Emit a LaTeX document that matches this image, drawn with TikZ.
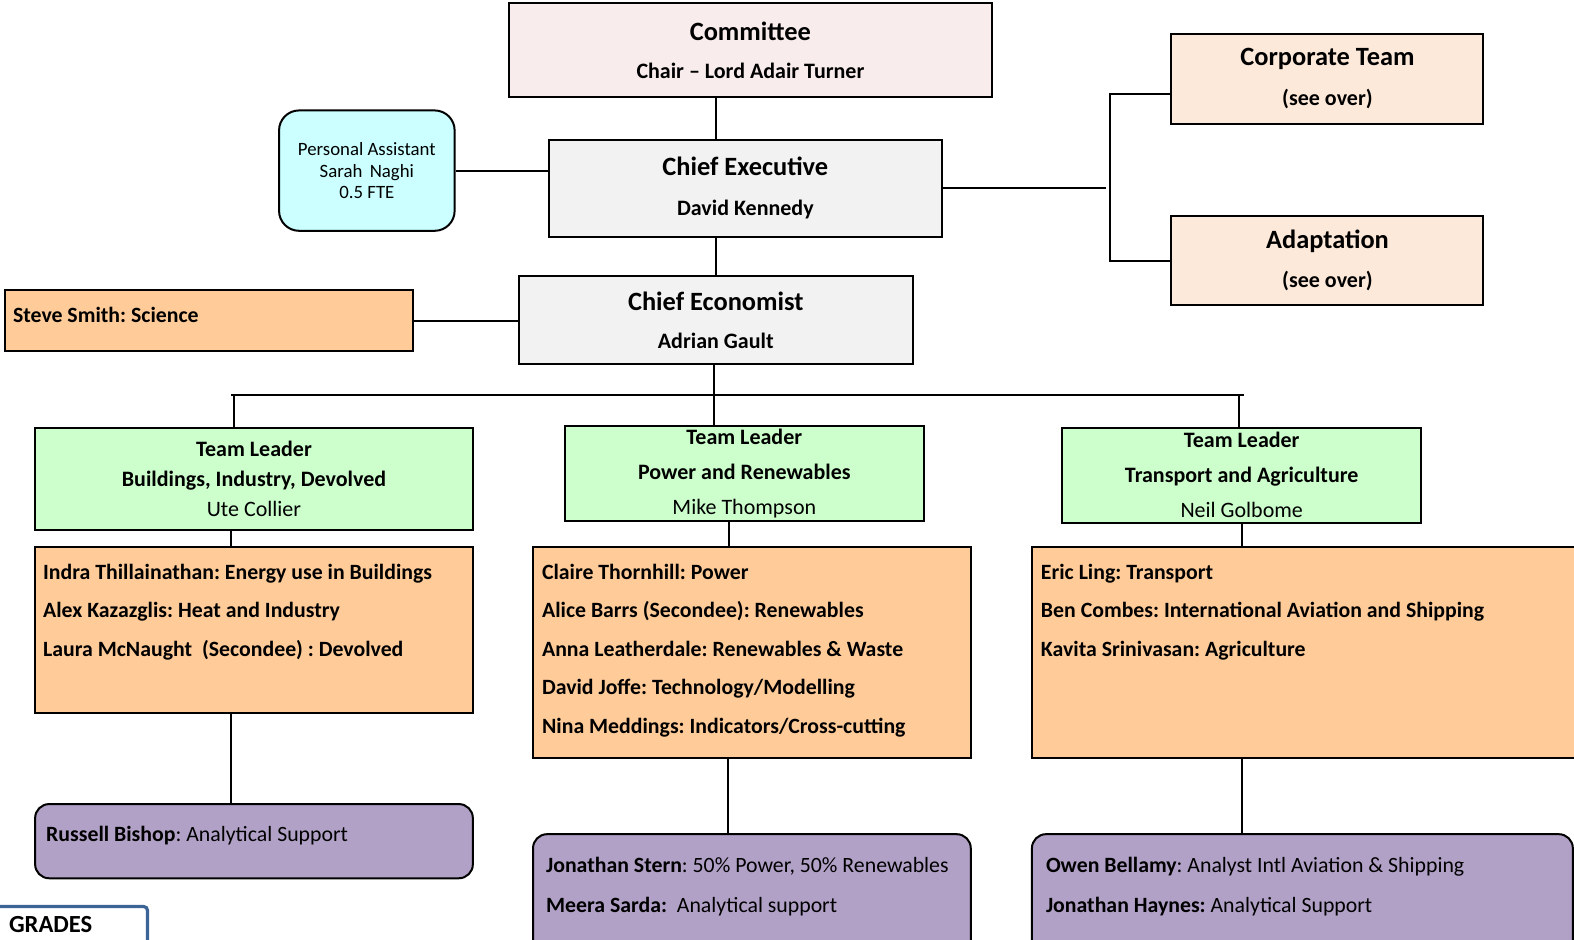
\documentclass[tikz,border=0pt]{standalone}
\usepackage{fontspec}
\setmainfont{Carlito}
\usetikzlibrary{positioning,calc}
\frenchspacing

\definecolor{cmtfill}{HTML}{F8ECEC}
\definecolor{execfill}{HTML}{F2F2F2}
\definecolor{pafill}{HTML}{CCFFFF}
\definecolor{sidefill}{HTML}{FDE9D9}
\definecolor{teamfill}{HTML}{FFCC99}
\definecolor{leadfill}{HTML}{CCFFCC}
\definecolor{supfill}{HTML}{B2A1C7}
\definecolor{gradeblue}{HTML}{3C6496}

\tikzset{
  box/.style={draw, line width=1pt, inner sep=0pt, anchor=north west, align=center},
  head/.style={font=\fontsize{11}{19}\selectfont\bfseries},
  lead/.style={box, fill=leadfill, font=\fontsize{11}{17.5}\selectfont},
  team/.style={box, fill=teamfill},
  support/.style={box, fill=supfill, rounded corners=7pt},
  listtext/.style={anchor=north west, inner sep=0pt, align=left, font=\fontsize{10.9}{19.2}\selectfont\bfseries},
  suptext/.style={anchor=north west, inner sep=0pt, align=left, font=\fontsize{10.9}{20}\selectfont}
}
\newcommand{\ttl}[1]{{\fontsize{13.2}{19}\selectfont #1}}

\begin{document}
\begin{tikzpicture}[x=0.502pt, y=-0.502pt, line width=1pt]
    \useasboundingbox (0,0) rectangle (1568,936);
    \clip (0,0) rectangle (1568,936);

    \node (Comm) [box, head, fill=cmtfill, minimum width=241.5pt, minimum height=47pt] at (506,2)
        {\ttl{Committee}\\Chair -- Lord Adair Turner};
    \node (CE) [box, head, fill=execfill, minimum width=196.3pt, minimum height=48.7pt,
        font=\fontsize{11}{20}\selectfont\bfseries] at (546,138)
        {\ttl{Chief Executive}\\David Kennedy};
    \node (PA) [box, fill=pafill, rounded corners=10pt, minimum width=87.8pt, minimum height=60.2pt,
        font=\fontsize{9.4}{10.8}\selectfont] at (277,109)
        {Personal Assistant\\Sarah\, Naghi\\0.5 FTE};
    \node (Corp) [box, head, fill=sidefill, minimum width=156pt, minimum height=44.7pt,
        font=\fontsize{11}{20}\selectfont\bfseries] at (1166,33)
        {\ttl{Corporate Team}\\(see over)};
    \node (Adapt) [box, head, fill=sidefill, minimum width=156pt, minimum height=44.7pt,
        font=\fontsize{11}{19.5}\selectfont\bfseries] at (1166,214)
        {\ttl{Adaptation}\\(see over)};
    \node (CEcon) [box, head, fill=execfill, minimum width=196.8pt, minimum height=44.2pt] at (516,274)
        {\ttl{Chief Economist}\\Adrian Gault};
    \node (Steve) [team, minimum width=203.8pt, minimum height=30.6pt] at (4,288) {};
    \node (Stevet) [listtext, anchor=west] at ($(Steve.west)+(8,-6)$) {Steve Smith: Science};

    \node (TL1) [lead, minimum width=218.9pt, minimum height=51.2pt, font=\fontsize{11}{15}\selectfont] at (34,425)
        {\textbf{Team Leader}\\\textbf{Buildings, Industry, Devolved}\\Ute Collier};
    \node (TL2) [lead, minimum width=179.2pt, minimum height=47.7pt] at (562,423)
        {\textbf{Team Leader}\\\textbf{Power and Renewables}\\Mike Thompson};
    \node (TL3) [lead, minimum width=179.7pt, minimum height=47.7pt] at (1057,425)
        {\textbf{Team Leader}\\\textbf{Transport and Agriculture}\\Neil Golbome};

    \node (O1) [team, minimum width=218.9pt, minimum height=82.8pt] at (34,544) {};
    \node (O2) [team, minimum width=218.9pt, minimum height=105.4pt] at (530,544) {};
    \node (O3) [team, minimum width=281pt, minimum height=105.4pt] at (1027,544) {};
    \node (O1t) [listtext] at ($(O1.north west)+(8,17)$)
        {Indra Thillainathan: Energy use in Buildings\\Alex Kazazglis: Heat and Industry\\Laura McNaught\ \ (Secondee) : Devolved};
    \node (O2t) [listtext] at ($(O2.north west)+(9,17)$)
        {Claire Thornhill: Power\\Alice Barrs (Secondee): Renewables\\Anna Leatherdale: Renewables \& Waste\\David Joffe: Technology/Modelling\\Nina Meddings: Indicators/Cross-cutting};
    \node (O3t) [listtext] at ($(O3.north west)+(9,17)$)
        {Eric Ling: Transport\\Ben Combes: International Aviation and Shipping\\Kavita Srinivasan: Agriculture};

    \node (P1) [support, minimum width=218.9pt, minimum height=37.1pt] at (34,800) {};
    \node (P2) [support, minimum width=218.9pt, minimum height=60pt] at (530,830) {};
    \node (P3) [support, minimum width=270.5pt, minimum height=60pt] at (1027,830) {};
    \node (P1t) [suptext] at ($(P1.north west)+(11,22)$)
        {\textbf{Russell Bishop}: Analytical Support};
    \node (P2t) [suptext] at ($(P2.north west)+(13,23)$)
        {\textbf{Jonathan Stern}: 50\% Power, 50\% Renewables\\\textbf{Meera Sarda:}\ \ Analytical support};
    \node (P3t) [suptext] at ($(P3.north west)+(14,23)$)
        {\textbf{Owen Bellamy}: Analyst Intl Aviation \& Shipping\\\textbf{Jonathan Haynes:} Analytical Support};

    \draw[gradeblue, line width=1.6pt, rounded corners=2pt] (-10,903) -- (147,903) -- (147,960);
    \node (grades) [anchor=west, inner sep=0pt, font=\fontsize{12.3}{14}\selectfont\bfseries] at (8,921) {GRADES};

    \coordinate (spine) at (713,0);
    \coordinate (brk) at (1106,0);
    \coordinate (busL) at (230,393);
    \coordinate (busR) at (1239,393);

    \draw (Comm.south -| spine) -- (CE.north -| spine);
    \draw (PA.east) -- (PA.east -| CE.west);
    \draw (CE.east) -- ($(CE.east -| brk)+(-4,0)$);
    \draw ($(Corp.south west)!0.33!(Corp.north west)$) -| (brk |- Adapt.west) -- (Adapt.west);
    \draw (CE.south -| spine) -- (CEcon.north -| spine);
    \draw (Steve.east) -- (Steve.east -| CEcon.west);
    \draw (CEcon.south -| 711,0) -- (busL -| 711,0);
    \draw (busL) -- (busR);
    \foreach \n/\x in {TL1/233, TL2/711, TL3/1234}
        \draw (busL -| \x,0) -- (\x,0 |- \n.north);
    \foreach \a/\b/\x in {TL1/O1/230, TL2/O2/726, TL3/O3/1237, O1/P1/230, O2/P2/725, O3/P3/1237}
        \draw (\x,0 |- \a.south) -- (\x,0 |- \b.north);
\end{tikzpicture}
\end{document}
